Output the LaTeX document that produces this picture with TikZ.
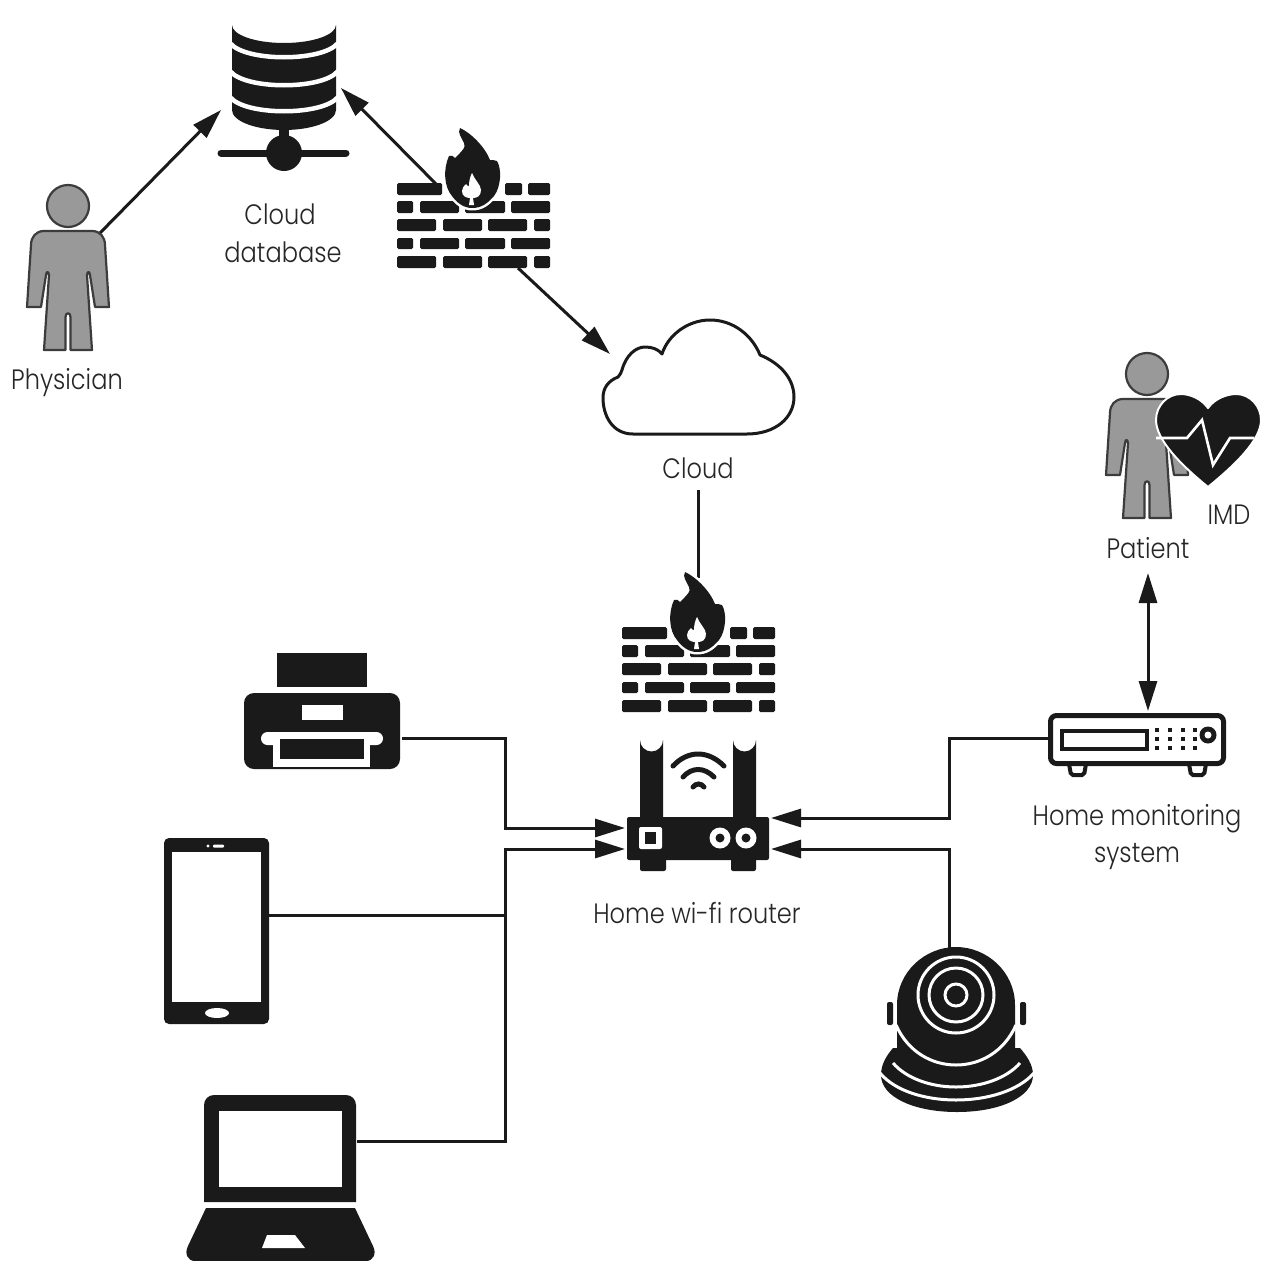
\documentclass[tikz,border=0pt]{standalone}
\usepackage{fontspec}
\setmainfont[FakeStretch=0.86]{Poppins Light}
\usetikzlibrary{arrows.meta}
\definecolor{ink}{HTML}{1A1A1A}
\definecolor{txt}{HTML}{262626}
\definecolor{skin}{HTML}{999999}
\tikzset{
  lbl/.style={anchor=base,inner sep=0pt,text=txt,font=\fontsize{28}{30}\selectfont},
  iconbox/.style={inner sep=0pt,draw=none,fill=none},
  wire/.style={draw=ink,line width=3pt},
  tip/.style={-{Triangle[length=30pt,width=18pt]}},
  bitip/.style={{Triangle[length=30pt,width=18pt]}-{Triangle[length=30pt,width=18pt]}},
  solid ink/.style={fill=ink,draw=none},
  hole/.style={fill=white,draw=none},
  cut/.style={draw=white,line width=3pt,line cap=round},
  pics/person/.style={code={
    \path[fill=skin,draw=ink!85,line width=2.2pt] (0,-25) circle[radius=21];
    \path[fill=skin,draw=ink!85,line width=2.2pt,line join=round]
      (-24,0) -- (24,0) .. controls (32,0) and (37,6) .. (37,14) -- (41,76) -- (27,76)
      -- (22,44) .. controls (21.5,40) and (19.5,40) .. (19,44) -- (24,119) -- (2.5,119) -- (2.5,86)
      .. controls (2.5,81) and (-2.5,81) .. (-2.5,86) -- (-2.5,119) -- (-24,119) -- (-19,44)
      .. controls (-19.5,40) and (-21.5,40) .. (-22,44) -- (-27,76) -- (-41,76) -- (-37,14)
      .. controls (-37,6) and (-32,0) .. (-24,0) -- cycle;
  }},
  pics/brickwall/.style={code={
    \path[solid ink,rounded corners=1.5pt]
      (0,0) rectangle (45,12) (108,0) rectangle (125,12) (131,0) rectangle (153,12)
      (0,18) rectangle (16,30) (23,18) rectangle (62,30) (68,18) rectangle (108,30) (114,18) rectangle (153,30)
      (0,36) rectangle (39,48) (46,36) rectangle (85,48) (91,36) rectangle (130,48) (137,36) rectangle (153,48)
      (0,55) rectangle (16,66) (23,55) rectangle (62,66) (68,55) rectangle (108,66) (114,55) rectangle (153,66)
      (0,73) rectangle (39,85) (46,73) rectangle (85,85) (91,73) rectangle (130,85) (137,73) rectangle (153,85);
    \path[fill=ink,draw=white,line width=5pt,line join=round,preaction={}]
      (63,-55) .. controls (74,-50) and (88,-36) .. (93,-23)
      .. controls (95,-22) and (98,-24) .. (100,-22)
      .. controls (105,-14) and (104,4) .. (97,13)
      .. controls (90,21) and (84,25) .. (75,25)
      .. controls (67,25) and (60,20) .. (55,13)
      .. controls (47,4) and (46,-14) .. (52,-27)
      .. controls (54,-28) and (57,-27) .. (58,-25)
      .. controls (63,-30) and (70,-36) .. (67,-40)
      .. controls (65,-45) and (60,-50) .. (63,-55) -- cycle;
    \path[fill=ink] (63,-55) .. controls (74,-50) and (88,-36) .. (93,-23)
      .. controls (95,-22) and (98,-24) .. (100,-22)
      .. controls (105,-14) and (104,4) .. (97,13)
      .. controls (90,21) and (84,25) .. (75,25)
      .. controls (67,25) and (60,20) .. (55,13)
      .. controls (47,4) and (46,-14) .. (52,-27)
      .. controls (54,-28) and (57,-27) .. (58,-25)
      .. controls (63,-30) and (70,-36) .. (67,-40)
      .. controls (65,-45) and (60,-50) .. (63,-55) -- cycle;
    \path[hole] (75,-10) .. controls (77,-4) and (84,2) .. (84,7)
      .. controls (84,13) and (80,15) .. (76,15) -- (77,22) -- (72,22) -- (73,15)
      .. controls (69,15) and (65,13) .. (65,8)
      .. controls (65,5) and (67,3) .. (69,1)
      .. controls (70,3) and (71,3) .. (72,3)
      .. controls (72,-2) and (73,-6) .. (75,-10) -- cycle;
  }}
}
\begin{document}
\begin{tikzpicture}[x=1pt,y=-1pt]
\useasboundingbox (0,0) rectangle (1264,1261);
\fill[white] (0,0) rectangle (1264,1261);

% connection points
\coordinate (physPort) at (100,233);
\coordinate (dbInL) at (221,110);
\coordinate (dbInR) at (341,88);
\coordinate (fwAup) at (437,185);
\coordinate (fwAdown) at (518,268);
\coordinate (cloudIn) at (610,354);
\coordinate (cloudOut) at (698,490);
\coordinate (fwBtop) at (698,578);
\coordinate (patientIn) at (1148,573);
\coordinate (dvrIn) at (1148,711);
\coordinate (dvrPort) at (1048,738);
\coordinate (rBusTop) at (949,818);
\coordinate (routerR1) at (771,818);
\coordinate (camPort) at (949,948);
\coordinate (routerR2) at (771,849);
\coordinate (printerPort) at (402,738);
\coordinate (busTop) at (505,828);
\coordinate (routerL1) at (625,828);
\coordinate (phonePort) at (269,915);
\coordinate (busMid) at (505,915);
\coordinate (laptopPort) at (357,1141);
\coordinate (busLow) at (505,849);
\coordinate (routerL2) at (625,849);

% connectors
\draw[wire,tip] (physPort) -- (dbInL);
\draw[wire,tip] (fwAup) -- (dbInR);
\draw[wire,tip] (fwAdown) -- (cloudIn);
\draw[wire] (cloudOut) -- (fwBtop);
\draw[wire,bitip] (patientIn) -- (dvrIn);
\draw[wire,tip] (dvrPort) -| (rBusTop) -- (routerR1);
\draw[wire,tip] (camPort) |- (routerR2);
\draw[wire,tip] (printerPort) -| (busTop) -- (routerL1);
\draw[wire] (phonePort) -- (busMid);
\draw[wire,tip] (laptopPort) -| (busLow) -- (routerL2);

% icon frames
\node[iconbox,minimum width=132pt,minimum height=165pt] (database) at (283,87) {};
\node[iconbox,minimum width=82pt,minimum height=166pt] (physician) at (68,267) {};
\node[iconbox,minimum width=153pt,minimum height=140pt] (firewallA) at (473,198) {};
\node[iconbox,minimum width=192pt,minimum height=116pt] (cloud) at (698,378) {};
\node[iconbox,minimum width=153pt,minimum height=140pt] (firewallB) at (698,642) {};
\node[iconbox,minimum width=142pt,minimum height=143pt] (router) at (698,800) {};
\node[iconbox,minimum width=156pt,minimum height=116pt] (printer) at (322,711) {};
\node[iconbox,minimum width=105pt,minimum height=186pt] (phone) at (216,931) {};
\node[iconbox,minimum width=188pt,minimum height=166pt] (laptop) at (281,1178) {};
\node[iconbox,minimum width=152pt,minimum height=165pt] (camera) at (957,1030) {};
\node[iconbox,minimum width=178pt,minimum height=64pt] (dvr) at (1137,745) {};
\node[iconbox,minimum width=82pt,minimum height=166pt] (patient) at (1147,435) {};
\node[iconbox,minimum width=105pt,minimum height=93pt] (heart) at (1208,441) {};

% database
\begin{scope}
\path[solid ink] (232,25) arc[start angle=180,end angle=0,x radius=52,y radius=18]
  -- (336,110) arc[start angle=0,end angle=180,x radius=52,y radius=20] -- cycle;
\draw[cut,line cap=butt,line width=4.5pt] (230,43) .. controls (245,62) and (323,62) .. (338,43);
\draw[cut,line cap=butt,line width=4.5pt] (230,71) .. controls (245,90) and (323,90) .. (338,71);
\draw[cut,line cap=butt,line width=4.5pt] (230,97) .. controls (245,116) and (323,116) .. (338,97);
\fill[ink] (279,125) rectangle (289,140);
\draw[ink,line width=7pt,line cap=round] (221,153) -- (346,153);
\fill[ink] (284,153) circle[radius=18];
\end{scope}

% people
\pic at (68,231) {person};
\pic at (1147,399) {person};

% heart
\path[fill=ink,draw=white,line width=2pt,line join=round]
  (1208,408) .. controls (1215,398) and (1228,394) .. (1236,394)
  .. controls (1250,394) and (1261,406) .. (1261,420)
  .. controls (1261,440) and (1235,465) .. (1208,487)
  .. controls (1181,465) and (1156,440) .. (1156,420)
  .. controls (1156,406) and (1167,394) .. (1181,394)
  .. controls (1189,394) and (1201,398) .. (1208,408) -- cycle;
\draw[white,line width=2.6pt,line join=miter] (1156,438) -- (1187,438) -- (1202,420) -- (1213,465) -- (1230,438) -- (1254,438);

% firewalls
\pic at (397,183) {brickwall};
\pic at (622,627) {brickwall};

% cloud
\path[fill=white,draw=ink,line width=3pt,line join=round]
  (633,434) .. controls (612,434) and (603,415) .. (603,398)
  .. controls (603,388) and (608,381) .. (618,377)
  .. controls (620,375) and (621,373) .. (622,370)
  .. controls (626,355) and (636,347) .. (645,347)
  .. controls (652,347) and (658,349) .. (662,354)
  .. controls (668,335) and (688,320) .. (710,320)
  .. controls (733,320) and (752,335) .. (760,355)
  .. controls (782,364) and (794,380) .. (794,397)
  .. controls (794,418) and (775,434) .. (747,434) -- cycle;

% router
\path[solid ink] (640,840) -- (640,740) arc[start angle=180,end angle=0,radius=11.5] -- (663,840) -- cycle;
\path[solid ink] (733,840) -- (733,740) arc[start angle=180,end angle=0,radius=11.5] -- (756,840) -- cycle;
\path[solid ink,rounded corners=2pt] (627,817) rectangle (769,860);
\path[solid ink,rounded corners=2pt] (640,855) rectangle (666,871);
\path[solid ink,rounded corners=2pt] (731,855) rectangle (756,871);
\path[hole,rounded corners=2pt] (639,827) rectangle (662,849);
\path[solid ink] (645,832) rectangle (656,844);
\fill[white] (720,838) circle[radius=10.5];
\fill[ink] (720,838) circle[radius=4.5];
\fill[white] (746,838) circle[radius=10.5];
\fill[ink] (746,838) circle[radius=4.5];
\draw[ink,line width=5pt,line cap=round] (673,766) .. controls (688,750) and (708,750) .. (724,766);
\draw[ink,line width=5pt,line cap=round] (683,777) .. controls (692,767) and (704,767) .. (714,777);
\draw[ink,line width=5pt,line cap=round] (693,787) .. controls (696,783) and (701,783) .. (704,787);

% printer
\path[solid ink] (277,653) rectangle (367,687);
\path[solid ink,rounded corners=10pt] (244,693) rectangle (400,769);
\path[hole] (302,705) rectangle (343,720);
\path[hole,rounded corners=6.5pt] (261,732) rectangle (383,745);
\path[hole] (273,740) -- (370,740) -- (370,767) -- (273,767) -- cycle;
\path[solid ink] (280,739) rectangle (364,759);

% phone
\path[solid ink,rounded corners=5pt] (164,838) rectangle (269,1024);
\path[hole] (172,852) rectangle (261,1002);
\fill[white] (208,846) circle[radius=1.6];
\fill[white,rounded corners=1pt] (213,844.5) rectangle (224,847.5);
\fill[white] (217,1013) ellipse[x radius=12,y radius=5];

% laptop
\path[solid ink] (204,1202) -- (204,1105) arc[start angle=180,end angle=270,radius=10] -- (346,1095)
  arc[start angle=270,end angle=360,radius=10] -- (356,1202) -- cycle;
\path[hole] (219,1111) rectangle (342,1187);
\path[solid ink] (206,1208) -- (355,1208) -- (373,1246) .. controls (377,1254) and (373,1261) .. (366,1261)
  -- (195,1261) .. controls (188,1261) and (184,1254) .. (188,1246) -- cycle;
\path[hole] (267,1235) -- (295,1235) -- (305,1248) -- (262,1248) -- cycle;

% camera
\path[solid ink,rounded corners=2pt] (887,1002) rectangle (893,1025);
\path[solid ink,rounded corners=2pt] (1020,1002) rectangle (1026,1025);
\path[solid ink] (881,1075) .. controls (881,1064) and (887,1055) .. (893,1048) -- (897,1048) -- (897,1005)
  .. controls (897,972) and (925,947) .. (956,947) .. controls (987,947) and (1015,972) .. (1015,1005)
  -- (1015,1048) -- (1020,1048) .. controls (1026,1055) and (1033,1064) .. (1033,1075)
  .. controls (1033,1097) and (1000,1112) .. (957,1112) .. controls (914,1112) and (881,1097) .. (881,1075) -- cycle;
\draw[cut,line cap=butt] (956,995) circle[radius=38];
\draw[cut,line cap=butt] (956,995) circle[radius=27];
\draw[cut,line cap=butt] (956,995) circle[radius=11];
\draw[cut,line cap=butt] (896,1025) .. controls (908,1052) and (932,1065) .. (956,1065) .. controls (980,1065) and (1004,1052) .. (1016,1025);
\draw[cut,line cap=butt] (893,1063) .. controls (906,1078) and (930,1087) .. (956,1087) .. controls (982,1087) and (1007,1078) .. (1020,1063);
\draw[cut,line cap=butt] (880,1073) .. controls (895,1091) and (925,1100) .. (956,1100) .. controls (987,1100) and (1018,1091) .. (1034,1073);

% monitoring box
\path[fill=white,draw=ink,line width=5pt,rounded corners=6pt] (1050.5,715.5) rectangle (1223.5,763.5);
\path[fill=white,draw=ink,line width=4pt] (1062,731) rectangle (1147,749);
\foreach \cx in {1157,1170,1183,1195}
  \foreach \cy in {730,739,748}
    \fill[ink] (\cx-2.2,\cy-2.2) rectangle (\cx+2.2,\cy+2.2);
\fill[ink] (1208,735) circle[radius=8.5];
\fill[white] (1208,735) circle[radius=3.5];
\draw[ink,line width=4pt,rounded corners=2pt] (1069,764) -- (1071,775) -- (1084,775) -- (1086,764);
\draw[ink,line width=4pt,rounded corners=2pt] (1189,764) -- (1191,775) -- (1204,775) -- (1206,764);

% labels
\node[lbl] (lblPhysician) at (67,389) {Physician};
\node[lbl] (lblCloudDb) at (280,224) {Cloud};
\node[lbl] (lblDatabase) at (283,262) {database};
\node[lbl] (lblCloud) at (698,478) {Cloud};
\node[lbl] (lblImd) at (1229,524) {IMD};
\node[lbl] (lblPatient) at (1148,558) {Patient};
\node[lbl] (lblRouter) at (697,923) {Home wi-fi router};
\node[lbl] (lblHome) at (1137,825) {Home monitoring};
\node[lbl] (lblSystem) at (1137,862) {system};
\end{tikzpicture}
\end{document}
